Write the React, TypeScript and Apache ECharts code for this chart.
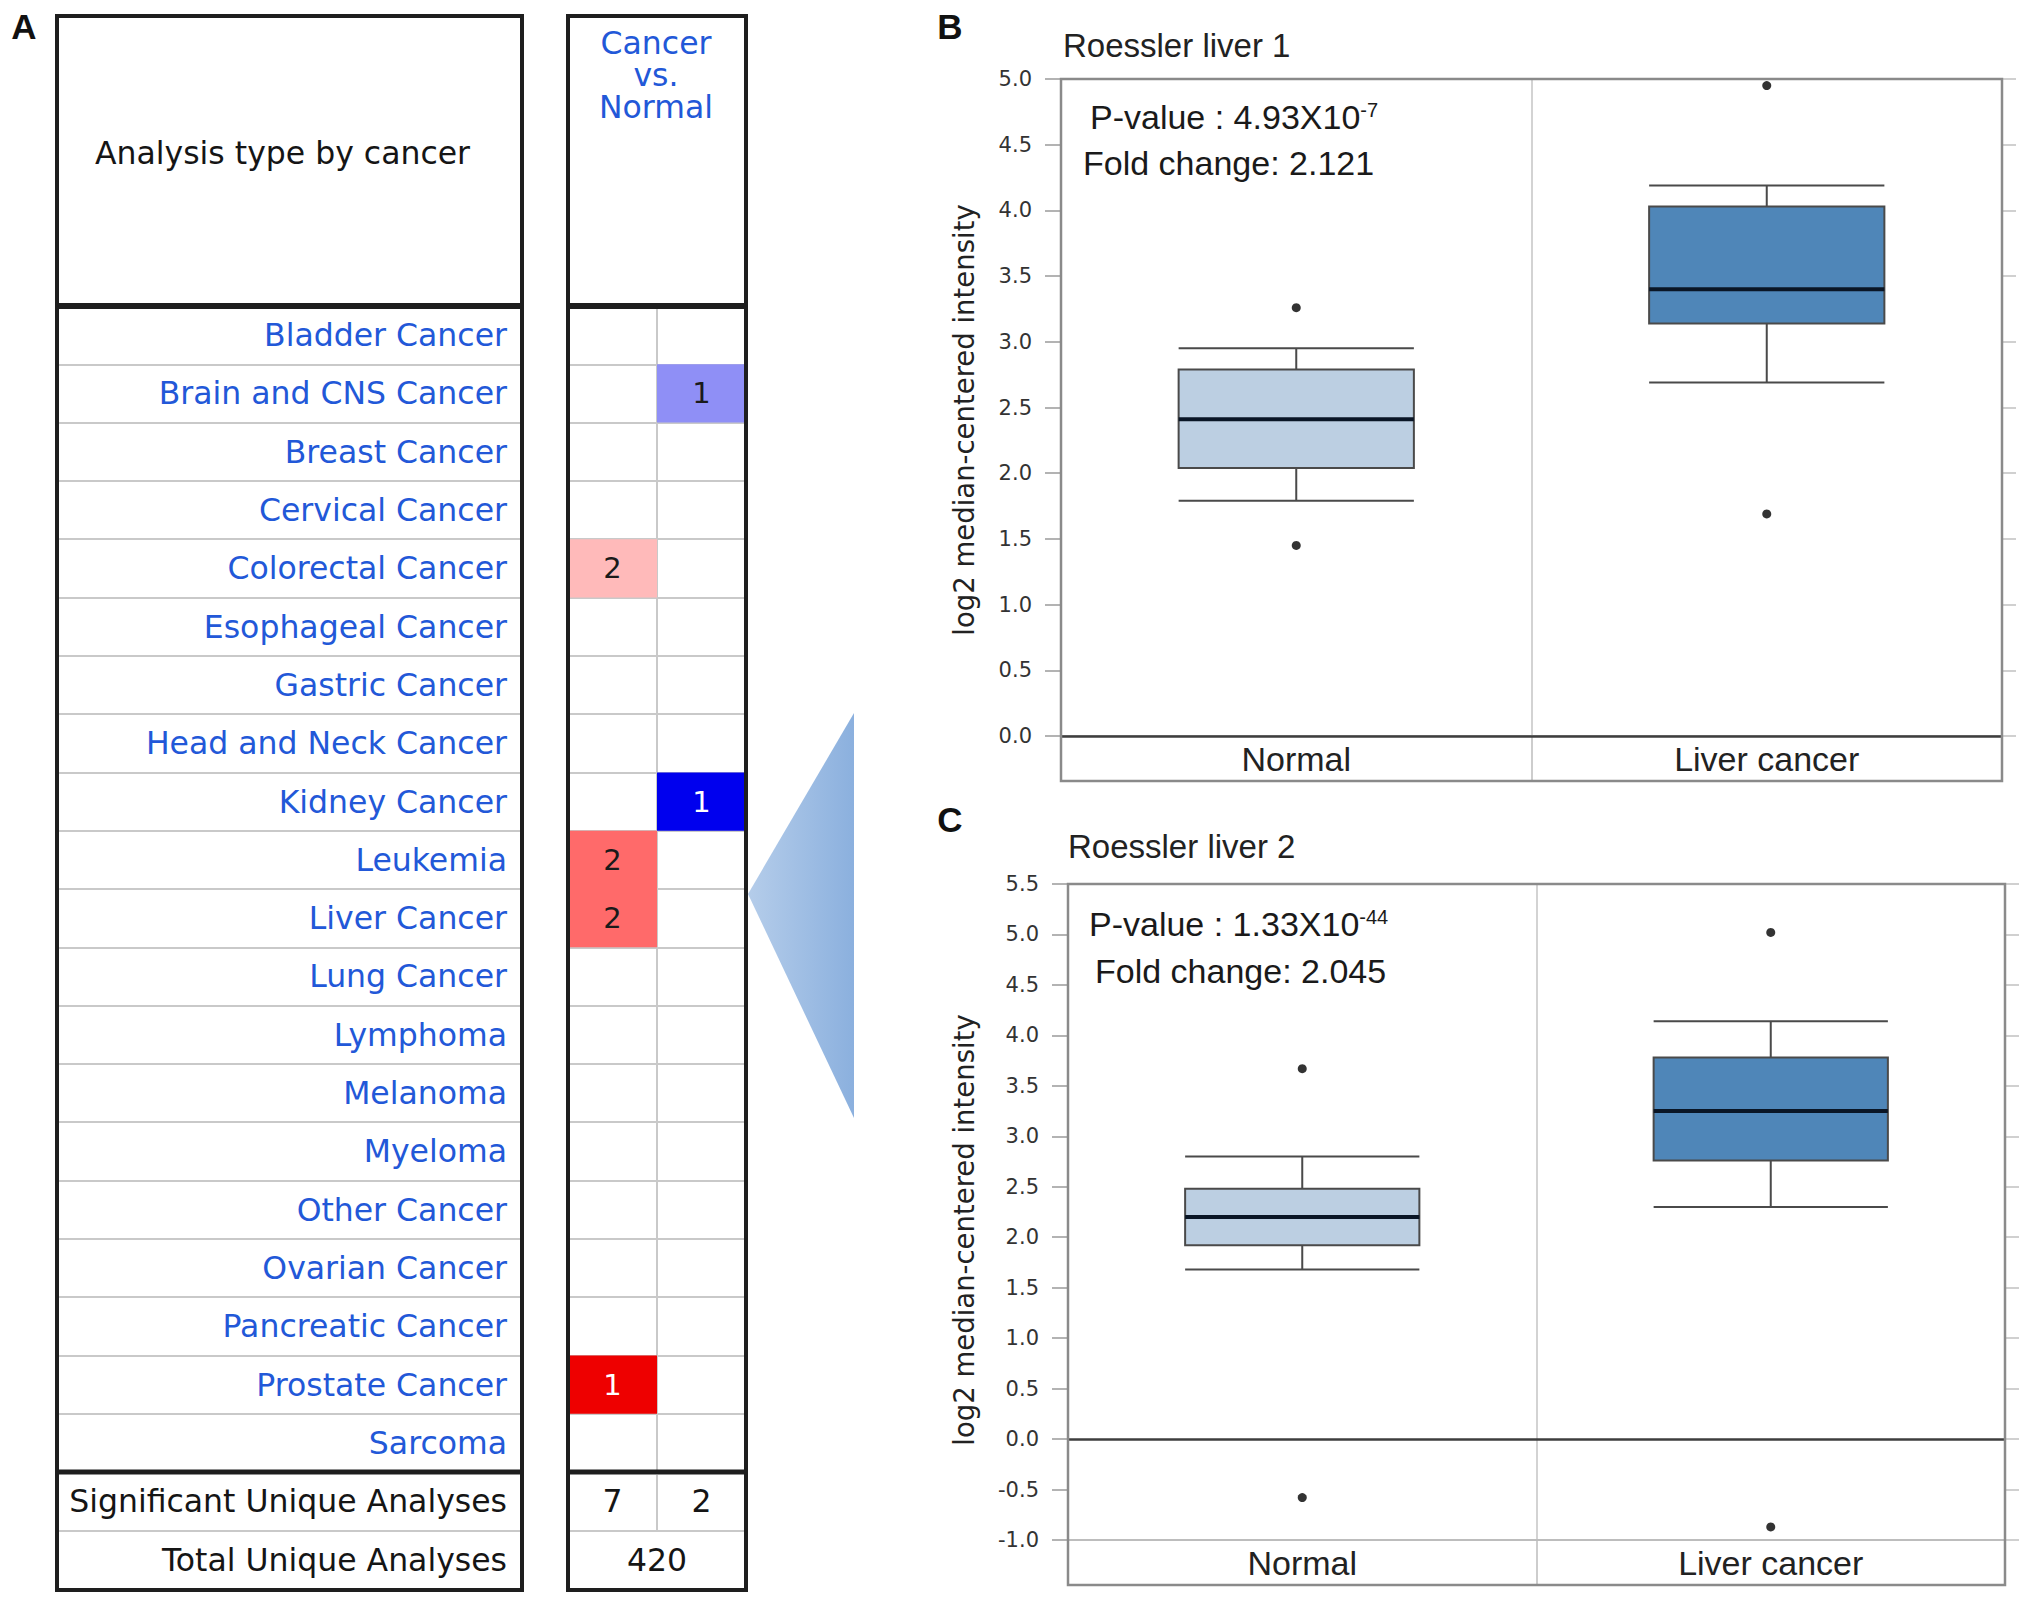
import React, { useEffect, useRef } from "react";
import * as echarts from "echarts";

// ---------- Data: panel A (Oncomine summary) ----------
const cancers = [
  "Bladder Cancer",
  "Brain and CNS Cancer",
  "Breast Cancer",
  "Cervical Cancer",
  "Colorectal Cancer",
  "Esophageal Cancer",
  "Gastric Cancer",
  "Head and Neck Cancer",
  "Kidney Cancer",
  "Leukemia",
  "Liver Cancer",
  "Lung Cancer",
  "Lymphoma",
  "Melanoma",
  "Myeloma",
  "Other Cancer",
  "Ovarian Cancer",
  "Pancreatic Cancer",
  "Prostate Cancer",
  "Sarcoma",
];
const expressionColumns = ["Over-expression", "Under-expression"];
const overCounts = [0, 0, 0, 0, 2, 0, 0, 0, 0, 2, 2, 0, 0, 0, 0, 0, 0, 0, 1, 0];
const underCounts = [0, 1, 0, 0, 0, 0, 0, 0, 1, 0, 0, 0, 0, 0, 0, 0, 0, 0, 0, 0];
// gene-rank shade level of each cell (1 = weakest, 3 = strongest)
const overShade = [0, 0, 0, 0, 1, 0, 0, 0, 0, 2, 2, 0, 0, 0, 0, 0, 0, 0, 3, 0];
const underShade = [0, 2, 0, 0, 0, 0, 0, 0, 3, 0, 0, 0, 0, 0, 0, 0, 0, 0, 0, 0];
const totalUniqueAnalyses = 420;

// ---------- Data: panels B and C (boxplots) ----------
const boxCategories = ["Normal", "Liver cancer"];
// [lower whisker, Q1, median, Q3, upper whisker]
const liver1Boxes = [
  [1.79, 2.04, 2.41, 2.79, 2.95],
  [2.69, 3.14, 3.4, 4.03, 4.19],
];
const liver1Outliers = [
  [0, 3.26],
  [0, 1.45],
  [1, 4.95],
  [1, 1.69],
];
const liver2Boxes = [
  [1.68, 1.92, 2.2, 2.48, 2.8],
  [2.3, 2.76, 3.25, 3.78, 4.14],
];
const liver2Outliers = [
  [0, 3.67],
  [0, -0.58],
  [1, 5.02],
  [1, -0.87],
];
const panelTitles = ["Roessler liver 1", "Roessler liver 2"];
const pValueMantissa = ["4.93X10", "1.33X10"];
const pValueExponent = ["-7", "-44"];
const foldChanges = ["2.121", "2.045"];
const yName = "log2 median-centered intensity";

// ---------- Styles ----------
const F_TABLE = "'DejaVu Sans', Verdana, sans-serif";
const F_PLOT = "'Liberation Sans', Arial, sans-serif";
const BLUE_TEXT = "#2258d8";
const RED_SHADES = ["#ffffff", "#ffbaba", "#ff6a6a", "#ee0000"];
const BLUE_SHADES = ["#ffffff", "#b4b4fa", "#8f8ff6", "#0000ee"];
const BOX_FILLS = ["#bccfe2", "#4f86b8"];

const sum = (a: number[]) => a.reduce((s, v) => s + v, 0);

function buildOption() {
  const cellData: number[][] = [];
  overCounts.forEach((c, i) => {
    if (c > 0) cellData.push([0, i, c, overShade[i]]);
  });
  underCounts.forEach((c, i) => {
    if (c > 0) cellData.push([1, i, c, underShade[i]]);
  });

  const T_LEFT = 57,
    T_W = 465,
    R_LEFT = 568,
    R_W = 178,
    T_TOP = 16,
    T_HEAD = 306,
    T_ROWS_END = 1472,
    T_SIG_END = 1531,
    T_BOTTOM = 1590;

  const panels = [
    { left: 1061, top: 79, width: 941, height: 657, frameH: 702, min: 0, max: 5, boxes: liver1Boxes, outliers: liver1Outliers },
    { left: 1068, top: 884, width: 937, height: 656, frameH: 701, min: -1, max: 5.5, boxes: liver2Boxes, outliers: liver2Outliers },
  ];

  const grid: any[] = [
    { left: T_LEFT, top: T_HEAD, width: T_W, height: T_ROWS_END - T_HEAD, show: false },
    { left: R_LEFT, top: T_HEAD, width: R_W, height: T_ROWS_END - T_HEAD, show: false },
  ];
  const xAxis: any[] = [
    { type: "value", gridIndex: 0, min: 0, max: 1, show: false },
    {
      type: "category",
      gridIndex: 1,
      data: expressionColumns,
      axisLine: { show: false },
      axisTick: { show: false },
      axisLabel: { show: false },
      splitLine: { show: true, interval: 0, lineStyle: { color: "#c9c9c9", width: 2 } },
    },
  ];
  const yAxis: any[] = [
    {
      type: "category",
      gridIndex: 0,
      data: cancers,
      inverse: true,
      position: "right",
      axisLine: { show: false },
      axisTick: { show: false },
      axisLabel: {
        inside: true,
        margin: 15,
        interval: 0,
        color: BLUE_TEXT,
        fontSize: 31.5,
        fontFamily: F_TABLE,
      },
      splitLine: { show: true, interval: 0, lineStyle: { color: "#c9c9c9", width: 2 } },
    },
    {
      type: "category",
      gridIndex: 1,
      data: cancers,
      inverse: true,
      axisLine: { show: false },
      axisTick: { show: false },
      axisLabel: { show: false },
      splitLine: { show: true, interval: 0, lineStyle: { color: "#c9c9c9", width: 2 } },
    },
  ];
  const series: any[] = [
    {
      type: "custom",
      xAxisIndex: 1,
      yAxisIndex: 1,
      data: cellData,
      z: 3,
      renderItem: (params: any, api: any) => {
        const col = api.value(0);
        const row = api.value(1);
        const count = api.value(2);
        const shade = api.value(3);
        const p = api.coord([col, row]);
        const s = api.size([1, 1]);
        const fill = col === 0 ? RED_SHADES[shade] : BLUE_SHADES[shade];
        return {
          type: "group",
          children: [
            {
              type: "rect",
              shape: { x: p[0] - s[0] / 2, y: p[1] - s[1] / 2, width: s[0], height: s[1] },
              style: { fill },
            },
            {
              type: "text",
              x: p[0],
              y: p[1],
              style: {
                text: String(count),
                align: "center",
                verticalAlign: "middle",
                fill: shade >= 3 ? "#ffffff" : "#1a1a1a",
                fontSize: 29,
                fontFamily: F_TABLE,
              },
            },
          ],
        };
      },
    },
  ];

  panels.forEach((pn) => {
    const gi = grid.length;
    grid.push({ left: pn.left, top: pn.top, width: pn.width, height: pn.height, show: false });
    const xi = xAxis.length;
    xAxis.push({
      type: "category",
      gridIndex: gi,
      data: boxCategories,
      boundaryGap: true,
      axisLine: { show: true, onZero: false, lineStyle: { color: "#bdbdbd", width: 2 } },
      axisTick: { show: true, interval: 0, length: pn.frameH - pn.height, lineStyle: { color: "#bdbdbd", width: 1.5 } },
      axisLabel: { interval: 0, fontSize: 34, color: "#222", fontFamily: F_PLOT, margin: 6 },
      splitLine: { show: true, interval: 0, lineStyle: { color: "#c4c4c4", width: 1.5 } },
    });
    const yi = yAxis.length;
    yAxis.push({
      type: "value",
      gridIndex: gi,
      min: pn.min,
      max: pn.max,
      interval: 0.5,
      axisLine: { show: false },
      axisTick: { show: true, length: 16, lineStyle: { color: "#9a9a9a", width: 1.5 } },
      axisLabel: {
        formatter: (v: number) => v.toFixed(1),
        fontSize: 21,
        color: "#333",
        fontFamily: F_TABLE,
        margin: 29,
      },
      splitLine: { show: false },
    });
    yAxis.push({
      type: "value",
      gridIndex: gi,
      position: "right",
      min: pn.min,
      max: pn.max,
      interval: 0.5,
      axisLine: { show: false },
      axisTick: { show: true, length: 14, lineStyle: { color: "#c0c0c0", width: 1.5 } },
      axisLabel: { show: false },
      splitLine: { show: false },
    });
    series.push({
      type: "boxplot",
      xAxisIndex: xi,
      yAxisIndex: yi,
      boxWidth: ["50%", "50%"],
      z: 3,
      itemStyle: { borderColor: "#4a4a4a", borderWidth: 2 },
      data: pn.boxes.map((b, i) => ({
        value: b,
        itemStyle: { color: BOX_FILLS[i], borderColor: "#4a4a4a", borderWidth: 2 },
      })),
    });
    series.push({
      type: "custom",
      xAxisIndex: xi,
      yAxisIndex: yi,
      z: 5,
      data: pn.boxes.map((b, i) => [i, b[2]]),
      renderItem: (params: any, api: any) => {
        const p = api.coord([api.value(0), api.value(1)]);
        const w = api.size([1, 0])[0] * 0.5;
        return {
          type: "line",
          shape: { x1: p[0] - w / 2, y1: p[1], x2: p[0] + w / 2, y2: p[1] },
          style: { stroke: "#0a1626", lineWidth: 4 },
        };
      },
    });
    series.push({
      type: "scatter",
      xAxisIndex: xi,
      yAxisIndex: yi,
      z: 5,
      symbol: "circle",
      symbolSize: 9,
      itemStyle: { color: "#000" },
      data: pn.outliers,
      markLine: {
        silent: true,
        symbol: ["none", "none"],
        label: { show: false },
        lineStyle: { color: "#3e3e3e", width: 2.5, type: "solid" },
        data: [{ yAxis: 0 }],
      },
    });
  });

  const txt = (x: number, y: number, text: string, style: any, extra: any = {}) => ({
    type: "text",
    x,
    y,
    z: 100,
    style: { text, ...style },
    ...extra,
  });
  const line = (x1: number, y1: number, x2: number, y2: number, stroke: string, lineWidth: number) => ({
    type: "line",
    z: 100,
    shape: { x1, y1, x2, y2 },
    style: { stroke, lineWidth },
  });
  const frameRect = (x: number, y: number, w: number, h: number, stroke: string, lineWidth: number) => ({
    type: "rect",
    z: 100,
    shape: { x, y, width: w, height: h },
    style: { fill: "none", stroke, lineWidth },
  });

  const tableFont = { fontFamily: F_TABLE, fontSize: 31.5 };
  const letterFont = { fontFamily: F_PLOT, fontSize: 35, fontWeight: "bold", fill: "#111", align: "center", verticalAlign: "middle" };
  const graphic: any[] = [
    // panel letters
    txt(24, 26, "A", letterFont),
    txt(950, 26, "B", letterFont),
    txt(950, 819, "C", letterFont),
    // table frames
    frameRect(T_LEFT, T_TOP, T_W, T_BOTTOM - T_TOP, "#1e1e1e", 4),
    frameRect(R_LEFT, T_TOP, R_W, T_BOTTOM - T_TOP, "#1e1e1e", 4),
    line(T_LEFT, T_HEAD, T_LEFT + T_W, T_HEAD, "#1e1e1e", 6),
    line(R_LEFT, T_HEAD, R_LEFT + R_W, T_HEAD, "#1e1e1e", 6),
    line(T_LEFT, T_ROWS_END, T_LEFT + T_W, T_ROWS_END, "#1e1e1e", 5),
    line(R_LEFT, T_ROWS_END, R_LEFT + R_W, T_ROWS_END, "#1e1e1e", 5),
    line(T_LEFT + 2, T_SIG_END, T_LEFT + T_W - 2, T_SIG_END, "#c9c9c9", 2),
    line(R_LEFT + 2, T_SIG_END, R_LEFT + R_W - 2, T_SIG_END, "#c9c9c9", 2),
    line(R_LEFT + R_W / 2, T_ROWS_END + 3, R_LEFT + R_W / 2, T_SIG_END, "#c9c9c9", 2),
    // table header texts
    txt(95, 153, "Analysis type by cancer", { ...tableFont, fill: "#151515", align: "left", verticalAlign: "middle" }),
    txt(R_LEFT + R_W / 2 - 1, 75, "Cancer\nvs.\nNormal", { ...tableFont, lineHeight: 32, fill: BLUE_TEXT, align: "center", verticalAlign: "middle" }),
    // table footer texts
    txt(507, 1501, "Significant Unique Analyses", { ...tableFont, fill: "#151515", align: "right", verticalAlign: "middle" }),
    txt(507, 1560, "Total Unique Analyses", { ...tableFont, fill: "#151515", align: "right", verticalAlign: "middle" }),
    txt(R_LEFT + R_W / 4, 1501, String(sum(overCounts)), { ...tableFont, fill: "#151515", align: "center", verticalAlign: "middle" }),
    txt(R_LEFT + (3 * R_W) / 4, 1501, String(sum(underCounts)), { ...tableFont, fill: "#151515", align: "center", verticalAlign: "middle" }),
    txt(R_LEFT + R_W / 2, 1560, String(totalUniqueAnalyses), { ...tableFont, fill: "#151515", align: "center", verticalAlign: "middle" }),
    // zoom triangle
    {
      type: "polygon",
      z: 50,
      shape: { points: [[748, 894], [854, 713], [854, 1118]] },
      style: {
        fill: {
          type: "linear",
          x: 0,
          y: 0,
          x2: 1,
          y2: 0,
          colorStops: [
            { offset: 0, color: "#b5cdea" },
            { offset: 1, color: "#8bb0de" },
          ],
        },
      },
    },
  ];

  const titlePos = [
    [1063, 45],
    [1068, 846],
  ];
  const pPos = [
    [1090, 117],
    [1089, 924],
  ];
  const fPos = [
    [1083, 163],
    [1095, 971],
  ];
  const yNamePos = [
    [964, 420],
    [964, 1230],
  ];
  panels.forEach((pn, k) => {
    graphic.push(frameRect(pn.left, pn.top, pn.width, pn.frameH, "#8a8a8a", 2.5));
    graphic.push(
      txt(titlePos[k][0], titlePos[k][1], panelTitles[k], {
        fontFamily: F_PLOT,
        fontSize: 33,
        fill: "#222",
        align: "left",
        verticalAlign: "middle",
      })
    );
    graphic.push(
      txt(pPos[k][0], pPos[k][1], `{n|P-value : ${pValueMantissa[k]}}{s|${pValueExponent[k]}}`, {
        align: "left",
        verticalAlign: "middle",
        rich: {
          n: { fontFamily: F_PLOT, fontSize: 34, fill: "#1a1a1a", verticalAlign: "bottom" },
          s: { fontFamily: F_PLOT, fontSize: 20, fill: "#1a1a1a", verticalAlign: "top" },
        },
      })
    );
    graphic.push(
      txt(fPos[k][0], fPos[k][1], `Fold change: ${foldChanges[k]}`, {
        fontFamily: F_PLOT,
        fontSize: 34,
        fill: "#1a1a1a",
        align: "left",
        verticalAlign: "middle",
      })
    );
    graphic.push(
      txt(
        yNamePos[k][0],
        yNamePos[k][1],
        yName,
        { fontFamily: F_TABLE, fontSize: 27.5, fill: "#222", align: "center", verticalAlign: "middle" },
        { rotation: Math.PI / 2 }
      )
    );
  });

  return {
    animation: false,
    backgroundColor: "#ffffff",
    grid,
    xAxis,
    yAxis,
    series,
    graphic,
  };
}

export default function App() {
  const ref = useRef<HTMLDivElement>(null);
  useEffect(() => {
    if (!ref.current) return;
    const chart = echarts.init(ref.current, undefined, { renderer: "svg" });
    chart.setOption(buildOption());
    return () => chart.dispose();
  }, []);
  return (
    <div
      ref={ref}
      style={{ position: "absolute", left: 0, top: 0, width: 2031, height: 1606, background: "#fff" }}
    />
  );
}
